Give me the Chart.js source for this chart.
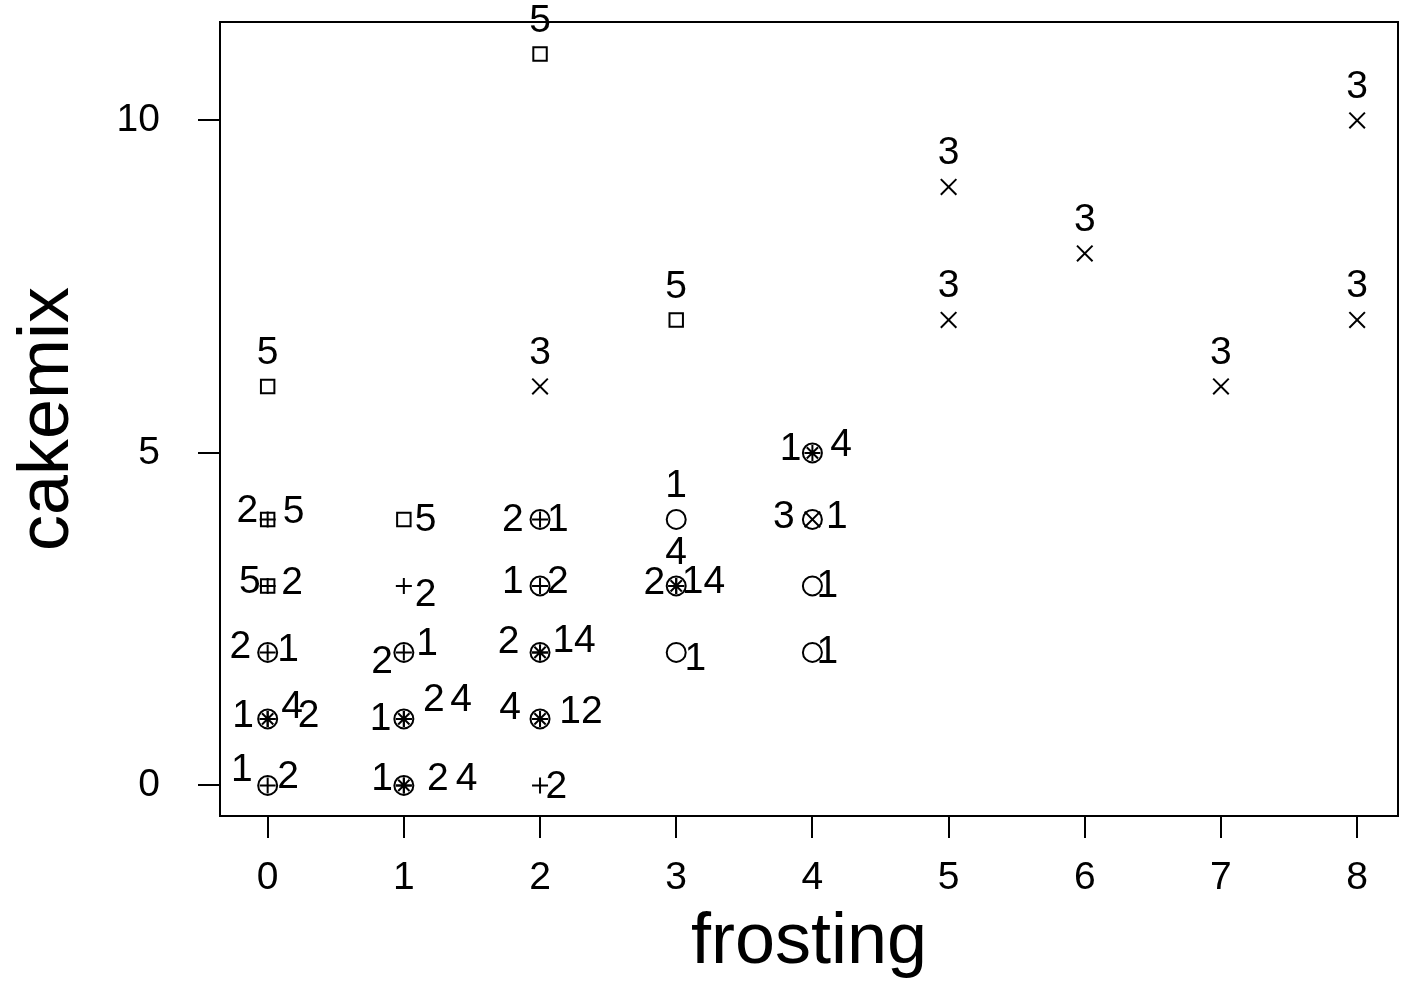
<!DOCTYPE html>
<html>
<head>
<meta charset="utf-8">
<script src="https://cdn.jsdelivr.net/npm/chart.js@4"></script>
<style>
  html, body { margin: 0; padding: 0; background: #fff; }
  canvas { display: block; }
</style>
</head>
<body>
<canvas id="chart" width="1404" height="986"></canvas>
<script>
// Cluster memberships (frosting, cakemix)
const g1x = [0, 0, 0, 1, 1, 1, 2, 2, 2, 2, 3, 3, 3, 4, 4, 4, 4];
const g1y = [2, 1, 0, 2, 1, 0, 4, 3, 2, 1, 4, 3, 2, 5, 4, 3, 2];

const g2x = [0, 0, 0, 0, 0, 1, 1, 1, 1, 2, 2, 2, 2, 2, 3];
const g2y = [4, 3, 2, 1, 0, 3, 2, 1, 0, 4, 3, 2, 1, 0, 3];

const g3x = [2, 4, 5, 5, 6, 7, 8, 8];
const g3y = [6, 4, 9, 7, 8, 6, 10, 7];

const g4x = [0, 1, 1, 2, 2, 3, 4];
const g4y = [1, 1, 0, 2, 1, 3, 5];

const g5x = [0, 0, 0, 1, 2, 3];
const g5y = [6, 4, 3, 4, 11, 7];

// text labels placed next to the points (data units)
const labelText = ['5', '2', '5', '5', '2', '2', '1', '1', '4', '2', '1', '2',
  '5', '2', '2', '1', '1', '2', '4', '1', '2', '4',
  '5', '3', '2', '1', '1', '2', '2', '14', '4', '12', '2',
  '5', '1', '4', '2', '14', '1',
  '1', '4', '3', '1', '1', '1',
  '3', '3', '3', '3', '3', '3'];
const labelX = [0, -0.15, 0.19, -0.13, 0.18, -0.2, 0.15, -0.18, 0.18, 0.3, -0.19, 0.15,
  1.16, 1.16, 0.84, 1.17, 0.83, 1.22, 1.42, 0.84, 1.25, 1.46,
  2, 2, 1.8, 2.13, 1.8, 2.13, 1.77, 2.25, 1.78, 2.3, 2.12,
  3, 3, 3, 2.84, 3.2, 3.14,
  3.84, 4.21, 3.79, 4.18, 4.11, 4.11,
  5, 5, 6, 7, 8, 8];
const labelY = [6.5, 4.13, 4.11, 3.06, 3.04, 2.08, 2.03, 1.04, 1.17, 1.04, 0.23, 0.12,
  3.99, 2.86, 1.85, 2.12, 0.99, 1.28, 1.28, 0.1, 0.1, 0.1,
  11.49, 6.5, 3.98, 3.98, 3.06, 3.06, 2.15, 2.17, 1.16, 1.1, -0.03,
  7.49, 4.5, 3.49, 3.04, 3.06, 1.9,
  5.05, 5.12, 4.04, 4.04, 3.0, 2.0,
  9.5, 7.5, 8.5, 6.5, 10.5, 7.5];

const xTicks = [0, 1, 2, 3, 4, 5, 6, 7, 8];
const yTicks = [0, 5, 10];

const FONT = "'Liberation Sans', Arial, sans-serif";

function pts(xs, ys) {
  return xs.map((x, i) => ({ x: x, y: ys[i] }));
}

function series(xs, ys, style, radius) {
  return {
    data: pts(xs, ys),
    showLine: false,
    pointStyle: style,
    pointRadius: radius,
    pointHoverRadius: radius,
    pointBorderWidth: 2,
    borderColor: '#000',
    backgroundColor: 'rgba(0,0,0,0)'
  };
}

// box around the plot region
const boxPlugin = {
  id: 'box',
  afterDraw(chart) {
    const a = chart.chartArea;
    const ctx = chart.ctx;
    ctx.save();
    ctx.strokeStyle = '#000';
    ctx.lineWidth = 2;
    ctx.strokeRect(a.left, a.top, a.right - a.left, a.bottom - a.top);
    ctx.restore();
  }
};

// cluster number labels
const textPlugin = {
  id: 'pointText',
  afterDatasetsDraw(chart) {
    const ctx = chart.ctx;
    const xs = chart.scales.x, ys = chart.scales.y;
    ctx.save();
    ctx.fillStyle = '#000';
    ctx.font = '39px ' + FONT;
    ctx.textAlign = 'center';
    ctx.textBaseline = 'middle';
    labelText.forEach((t, i) => {
      ctx.fillText(t, xs.getPixelForValue(labelX[i]), ys.getPixelForValue(labelY[i]));
    });
    ctx.restore();
  }
};

new Chart(document.getElementById('chart'), {
  type: 'scatter',
  data: {
    datasets: [
      series(g1x, g1y, 'circle', 9.5),
      series(g2x, g2y, 'cross', 8),
      series(g3x, g3y, 'crossRot', 11),
      series(g4x, g4y, 'star', 8),
      series(g5x, g5y, 'rect', 9.5)
    ]
  },
  options: {
    responsive: false,
    animation: false,
    devicePixelRatio: 1,
    layout: { autoPadding: false, padding: { top: 22, right: 6, left: 0, bottom: 0 } },
    plugins: {
      legend: { display: false },
      tooltip: { enabled: false }
    },
    scales: {
      x: {
        type: 'linear',
        min: -0.35,
        max: 8.3,
        afterBuildTicks: s => { s.ticks = xTicks.map(v => ({ value: v })); },
        afterFit: s => { s.height = 170; s.paddingLeft = 0; s.paddingRight = 0; },
        grid: { drawOnChartArea: false, drawTicks: true, tickLength: 22, color: '#000', lineWidth: 2 },
        border: { display: true, color: '#000', width: 2 },
        ticks: { color: '#000', font: { family: FONT, size: 39, lineHeight: 2.05 }, padding: 0, maxRotation: 0 },
        title: { display: true, text: 'frosting', color: '#000', font: { family: FONT, size: 72 }, padding: { top: 0, bottom: 0 } }
      },
      y: {
        type: 'linear',
        min: -0.46,
        max: 11.48,
        afterBuildTicks: s => { s.ticks = yTicks.map(v => ({ value: v })); },
        afterFit: s => { s.width = 220; s.paddingTop = 0; s.paddingBottom = 0; },
        grid: { drawOnChartArea: false, drawTicks: true, tickLength: 22, color: '#000', lineWidth: 2 },
        border: { display: true, color: '#000', width: 2 },
        ticks: { color: '#000', font: { family: FONT, size: 39 }, padding: 38 },
        title: { display: true, text: 'cakemix', color: '#000', font: { family: FONT, size: 72 }, padding: { top: 5, bottom: 0 } }
      }
    }
  },
  plugins: [boxPlugin, textPlugin]
});
</script>
</body>
</html>
